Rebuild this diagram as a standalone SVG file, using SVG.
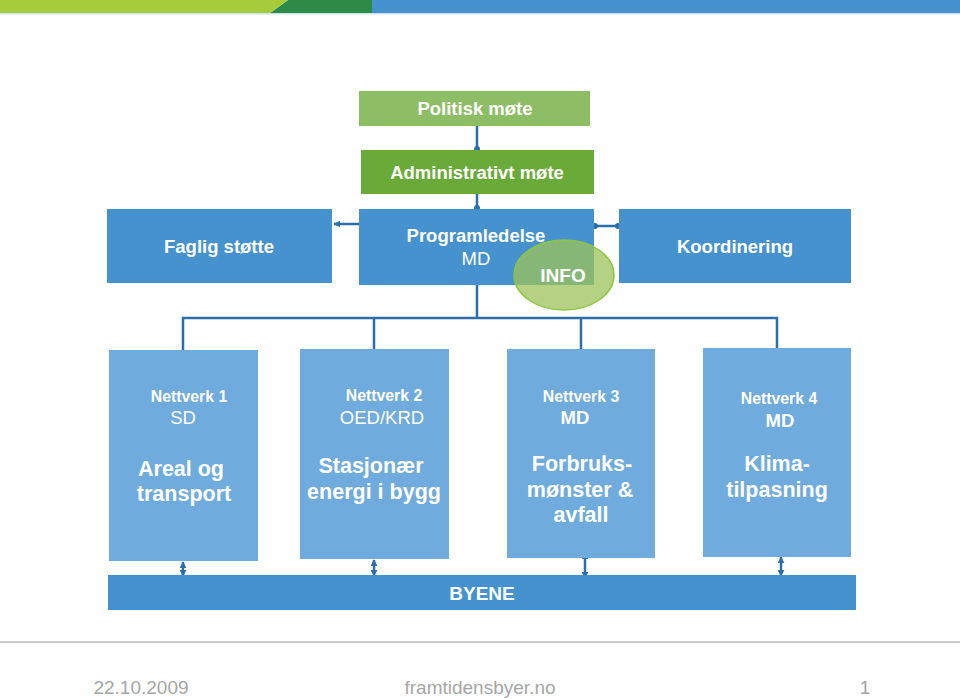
<svg xmlns="http://www.w3.org/2000/svg" width="960" height="699" viewBox="0 0 960 699">
<defs>
<style>
.t{font-family:"Liberation Sans",Arial,sans-serif;fill:#fff;text-anchor:middle}
.b{font-weight:bold}
.box{fill:#4592cf}
.nw{fill:#6fabdc}
.ln{stroke:#2d6ea8;stroke-width:2.5;fill:none}
.ft{font-family:"Liberation Sans",Arial,sans-serif;fill:#a6a6a6;font-size:19px;text-anchor:middle}
</style>
<marker id="ah" viewBox="0 0 10 10" refX="9" refY="5" markerWidth="7" markerHeight="7" markerUnits="userSpaceOnUse" orient="auto-start-reverse"><path d="M0,0 L10,5 L0,10 z" fill="#2d6ea8"/></marker>
<marker id="dt" viewBox="0 0 10 10" refX="5" refY="5" markerWidth="3" markerHeight="3"><circle cx="5" cy="5" r="4" fill="#2d6ea8"/></marker>
</defs>
<rect width="960" height="699" fill="#fff"/>
<!-- top bar -->
<rect x="372" y="0" width="588" height="13" fill="#4592cf"/>
<polygon points="270,13 288,0 372,0 372,13" fill="#2e8a47"/>
<polygon points="0,0 288,0 270,13 0,13" fill="#a6cc3c"/>
<rect x="0" y="13" width="960" height="1.5" fill="#cfe3f3"/>

<g id="connectors">
<line class="ln" x1="477" y1="126" x2="477" y2="149" marker-end="url(#dt)"/>
<line class="ln" x1="477" y1="194" x2="477" y2="208" marker-end="url(#dt)"/>
<line class="ln" x1="359" y1="224" x2="334" y2="224" marker-end="url(#ah)"/>
<line class="ln" x1="595" y1="226" x2="618" y2="226" marker-start="url(#dt)" marker-end="url(#dt)"/>
<polyline class="ln" points="477,284 477,318"/>
<polyline class="ln" points="183,350 183,318 777,318 777,348"/>
<line class="ln" x1="374" y1="318" x2="374" y2="349"/>
<line class="ln" x1="581" y1="318" x2="581" y2="349"/>
<line class="ln" x1="183" y1="562" x2="183" y2="576" marker-start="url(#ah)" marker-end="url(#ah)"/>
<line class="ln" x1="374" y1="560" x2="374" y2="576" marker-start="url(#ah)" marker-end="url(#ah)"/>
<line class="ln" x1="585" y1="553" x2="585" y2="578" marker-start="url(#ah)" marker-end="url(#ah)"/>
<line class="ln" x1="781" y1="557" x2="781" y2="576" marker-start="url(#ah)" marker-end="url(#ah)"/>
</g>

<g id="politisk">
<rect x="359" y="91" width="231" height="35" fill="#8dbd64"/>
<text class="t b" x="475" y="115" font-size="18.5">Politisk møte</text>
</g>
<g id="administrativt">
<rect x="361" y="150" width="233" height="44" fill="#6aaa38"/>
<text class="t b" x="477" y="179" font-size="18.5">Administrativt møte</text>
</g>
<g id="faglig">
<rect class="box" x="107" y="209" width="225" height="74"/>
<text class="t b" x="219" y="253" font-size="18.5">Faglig støtte</text>
</g>
<g id="programledelse">
<rect class="box" x="359" y="209" width="235" height="76"/>
<text class="t b" x="476" y="242" font-size="18.5">Programledelse</text>
<text class="t" x="476" y="265" font-size="18.5">MD</text>
</g>
<g id="koordinering">
<rect class="box" x="619" y="209" width="232" height="74"/>
<text class="t b" x="735" y="253" font-size="18.5">Koordinering</text>
</g>
<g id="info">
<ellipse cx="564" cy="275" rx="50" ry="35" fill="#9cc35a" fill-opacity="0.75" stroke="#8cc63f" stroke-width="1.5"/>
<text class="t b" x="563" y="282" font-size="19">INFO</text>
</g>

<g id="nettverk1">
<rect class="nw" x="109" y="350" width="149" height="211"/>
<text class="t b" x="189" y="402" font-size="15.8">Nettverk 1</text>
<text class="t" x="183" y="424" font-size="18.5">SD</text>
<text class="t b" x="181" y="476" font-size="21.5">Areal og</text>
<text class="t b" x="184" y="501" font-size="21.5">transport</text>
</g>
<g id="nettverk2">
<rect class="nw" x="300" y="349" width="149" height="210"/>
<text class="t b" x="384" y="401" font-size="15.8">Nettverk 2</text>
<text class="t" x="382" y="424" font-size="18.5">OED/KRD</text>
<text class="t b" x="371" y="473" font-size="21.5">Stasjonær</text>
<text class="t b" x="374" y="499" font-size="21.5">energi i bygg</text>
</g>
<g id="nettverk3">
<rect class="nw" x="507" y="349" width="148" height="209"/>
<text class="t b" x="581" y="402" font-size="15.8">Nettverk 3</text>
<text class="t b" x="575" y="424" font-size="18.5">MD</text>
<text class="t b" x="582" y="471" font-size="21.5">Forbruks-</text>
<text class="t b" x="580" y="497" font-size="21.5">mønster &amp;</text>
<text class="t b" x="581" y="522" font-size="21.5">avfall</text>
</g>
<g id="nettverk4">
<rect class="nw" x="703" y="348" width="148" height="209"/>
<text class="t b" x="779" y="404" font-size="15.8">Nettverk 4</text>
<text class="t b" x="780" y="427" font-size="18.5">MD</text>
<text class="t b" x="777" y="471" font-size="21.5">Klima-</text>
<text class="t b" x="777" y="497" font-size="21.5">tilpasning</text>
</g>
<g id="byene">
<rect class="box" x="108" y="575" width="748" height="35"/>
<text class="t b" x="482" y="600" font-size="19">BYENE</text>
</g>

<rect x="0" y="641" width="960" height="2" fill="#cccccc"/>
<text class="ft" x="141" y="694">22.10.2009</text>
<text class="ft" x="480" y="694">framtidensbyer.no</text>
<text class="ft" x="865" y="694">1</text>
</svg>
